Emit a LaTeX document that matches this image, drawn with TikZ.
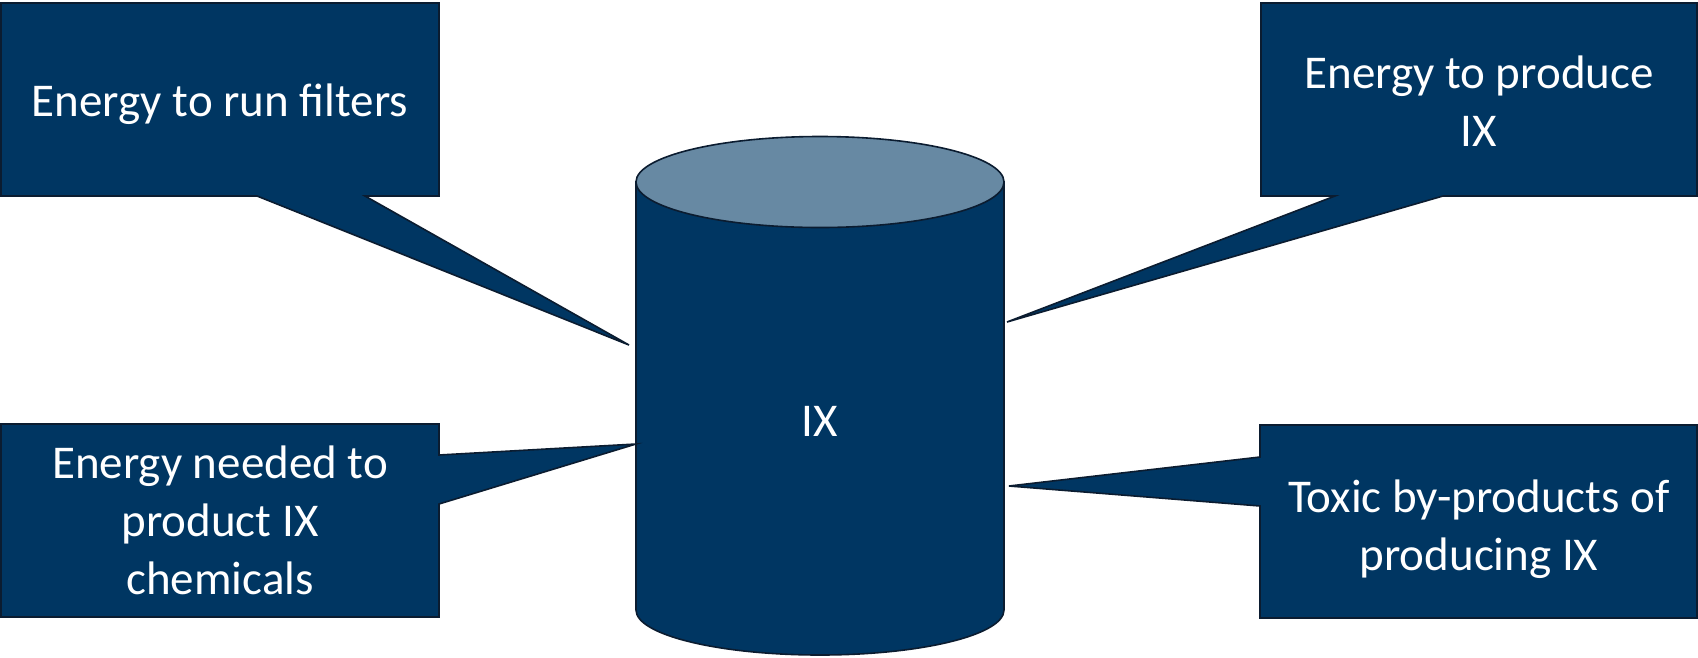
\documentclass[tikz,border=0pt]{standalone}
\usepackage{fontspec}
\setmainfont{Carlito}
\definecolor{navy}{HTML}{003662}
\definecolor{topblue}{HTML}{6789A3}
\definecolor{edge}{HTML}{0B1C30}
\begin{document}
\begin{tikzpicture}[x=1pt,y=-1pt,
  shapeline/.style={draw=edge,line width=1.6pt,fill=navy,line join=miter},
  label/.style={text=white,align=center,font=\fontsize{47}{58}\selectfont,inner sep=0pt}]
\useasboundingbox (0,0) rectangle (1698,657);
% cylinder
\draw[shapeline] (636,182) -- (636,610) arc[start angle=180,end angle=0,x radius=184,y radius=45] -- (1004,182) -- cycle;
\draw[draw=edge,line width=1.6pt,fill=topblue] (820,182) ellipse[x radius=184,y radius=45.5];
\node[label] (ix) at (820,421) {IX};
% callout top-left
\draw[shapeline] (1,3) -- (439,3) -- (439,196) -- (365,196) -- (629,345) -- (257,196) -- (1,196) -- cycle;
\node[label] (c1) at (220,104) {Energy to run filters};
% callout top-right
\draw[shapeline] (1261,3) -- (1697,3) -- (1697,196) -- (1443,196) -- (1007,322) -- (1335,196) -- (1261,196) -- cycle;
\node[label] (c2) at (1479,101) {Energy to produce\\IX};
% callout bottom-left
\draw[shapeline] (1,424) -- (439,424) -- (439,455) -- (636,444) -- (439,504) -- (439,617) -- (1,617) -- cycle;
\node[label] (c3) at (220,520) {Energy needed to\\product IX\\chemicals};
% callout bottom-right
\draw[shapeline] (1260,425) -- (1697,425) -- (1697,618) -- (1260,618) -- (1260,506) -- (1009,486) -- (1260,457) -- cycle;
\node[label] (c4) at (1479,529) {Toxic by-products of\\producing IX};
\end{tikzpicture}
\end{document}
